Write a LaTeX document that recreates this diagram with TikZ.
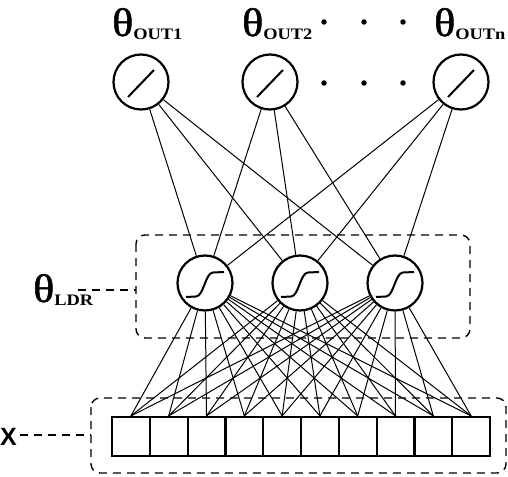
\documentclass[tikz,border=0pt]{standalone}
\usepackage{fontspec}
\setmainfont{Liberation Serif}
\newfontfamily\xsans{Liberation Sans}
\newfontfamily\thfont[FakeBold=1.3]{Liberation Serif}
\begin{document}
\begin{tikzpicture}[x=1pt,y=-1pt,
  neuron/.style={circle,draw,line width=2.2pt,minimum size=55pt,inner sep=0pt},
  cell/.style={rectangle,draw,line width=2.2pt,minimum width=37.8pt,minimum height=39pt,inner sep=0pt},
  conn/.style={line width=1pt},
  grp/.style={draw,dash pattern=on 8pt off 6pt,line width=1.4pt,rounded corners=9pt},
  lead/.style={draw,dash pattern=on 8pt off 6pt,line width=1.4pt},
  glyph/.style={line width=2pt},
  dot/.style={circle,fill=black,inner sep=0pt,minimum size=5.5pt},
  lab/.style={inner sep=0pt,anchor=base west}]
\useasboundingbox (0,0) rectangle (508,476);
% groups
\draw[grp] (136,235) rectangle (470,338);
\draw[grp] (91,398) rectangle (506,473);
% output neurons
\node[neuron] (o1) at (141,82) {};
\node[neuron] (o2) at (270,82) {};
\node[neuron] (o3) at (461,82) {};
% hidden neurons
\node[neuron] (h1) at (205,283) {};
\node[neuron] (h2) at (300,283) {};
\node[neuron] (h3) at (395,283) {};
% input cells
\foreach \i in {1,...,10}
  \node[cell] (c\i) at ({112+37.8*(\i-0.5)},436.5) {};
% connections
\foreach \o in {o1,o2,o3}
  \foreach \h in {h1,h2,h3}
    \draw[conn] (\o) -- (\h);
\foreach \h in {h1,h2,h3}
  \foreach \i in {1,...,10}
    \draw[conn] (\h) -- (c\i.north);
% glyphs
\foreach \o in {o1,o2,o3}
  \draw[glyph,shift={(\o)}] (-13,15) -- (13,-12);
\foreach \h in {h1,h2,h3}
  \draw[glyph,shift={(\h)}] (-19,14) -- (-9,13.5) .. controls (-1,13) and (0,-10) .. (8,-10.5) -- (19,-11);
% dots
\foreach \x [count=\k] in {324,364,403} {
  \node[dot] (dt\k) at (\x,22) {};
  \node[dot] (dm\k) at (\x,83) {};
}
% labels
\newcommand\thlab[1]{\scalebox{1.1}[1]{\fontsize{40}{40}\thfont θ}\raisebox{-3.5pt}{\fontsize{16}{16}\selectfont\bfseries\scalebox{1.15}[1]{#1}}}
\node[lab] (l1) at (112,36) {\thlab{OUT1}};
\node[lab] (l2) at (242,36) {\thlab{OUT2}};
\node[lab] (l3) at (434,36) {\thlab{OUTn}};
\node[lab] (lh) at (33,302) {\thlab{LDR}};
\node[lab] (lx) at (0,445) {\fontsize{25}{25}\selectfont\xsans\bfseries X};
\coordinate (gh) at (136,290);
\coordinate (gx) at (91,435);
\draw[lead] (78,290) -- (gh);
\draw[lead] (20,435) -- (gx);
\end{tikzpicture}
\end{document}
